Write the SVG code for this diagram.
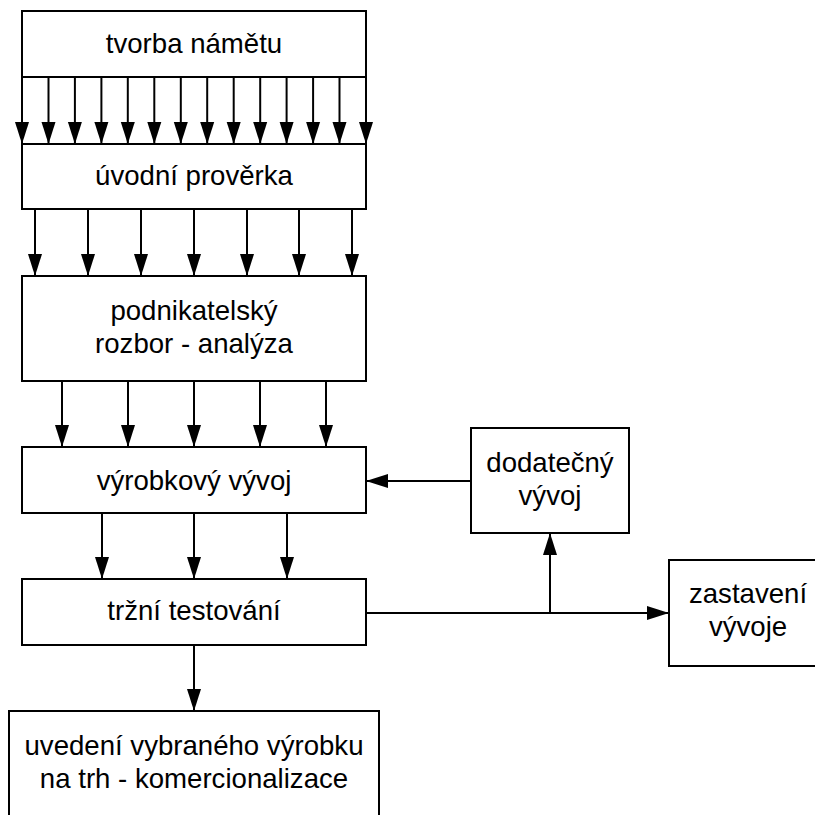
<svg xmlns="http://www.w3.org/2000/svg" width="815" height="815" viewBox="0 0 815 815">
<defs>
<style>
.box{fill:#fff;stroke:#000;stroke-width:2}
.t{font-family:"Liberation Sans",Arial,sans-serif;font-size:27.6px;fill:#000;text-anchor:middle}
.c{stroke:#000;stroke-width:2;fill:none;marker-end:url(#ah)}
.l{stroke:#000;stroke-width:2;fill:none}
</style>
<marker id="ah" markerUnits="userSpaceOnUse" markerWidth="22" markerHeight="14" refX="22" refY="7" orient="auto" overflow="visible">
<path d="M0,0 L22,7 L0,14 Z" fill="#000"/>
</marker>
</defs>
<rect width="815" height="815" fill="#fff"/>
<g id="connectors">
<path class="c" d="M22,77V144"/><path class="c" d="M48.5,77V144"/><path class="c" d="M74.9,77V144"/><path class="c" d="M101.4,77V144"/><path class="c" d="M127.8,77V144"/><path class="c" d="M154.3,77V144"/><path class="c" d="M180.8,77V144"/><path class="c" d="M207.2,77V144"/><path class="c" d="M233.7,77V144"/><path class="c" d="M260.2,77V144"/><path class="c" d="M286.6,77V144"/><path class="c" d="M313.1,77V144"/><path class="c" d="M339.5,77V144"/><path class="c" d="M366,77V144"/>
<path class="c" d="M35,209V276"/><path class="c" d="M88,209V276"/><path class="c" d="M141,209V276"/><path class="c" d="M194,209V276"/><path class="c" d="M247,209V276"/><path class="c" d="M299,209V276"/><path class="c" d="M352,209V276"/>
<path class="c" d="M62,381V447"/><path class="c" d="M128,381V447"/><path class="c" d="M194,381V447"/><path class="c" d="M260,381V447"/><path class="c" d="M326,381V447"/>
<path class="c" d="M102,513V579"/><path class="c" d="M194,513V579"/><path class="c" d="M287,513V579"/>
<path class="c" d="M194,645V711"/>
<path class="c" d="M471,481H366"/>
<path class="c" d="M366,613H669"/>
<path class="c" d="M550,613V533"/>
</g>
<g id="n1"><rect class="box" x="22" y="11" width="344" height="66"/><text class="t" x="194" y="53">tvorba námětu</text></g>
<g id="n2"><rect class="box" x="22" y="144" width="344" height="65"/><text class="t" x="194" y="185">úvodní prověrka</text></g>
<g id="n3"><rect class="box" x="22" y="276" width="344" height="105"/><text class="t" x="194" y="320">podnikatelský</text><text class="t" x="194" y="353">rozbor - analýza</text></g>
<g id="n4"><rect class="box" x="22" y="447" width="344" height="66"/><text class="t" x="194" y="490">výrobkový vývoj</text></g>
<g id="n5"><rect class="box" x="22" y="579" width="344" height="66"/><text class="t" x="194" y="620">tržní testování</text></g>
<g id="n6"><rect class="box" x="9" y="711" width="370" height="120"/><text class="t" x="194" y="755">uvedení vybraného výrobku</text><text class="t" x="194" y="788">na trh - komercionalizace</text></g>
<g id="n7"><rect class="box" x="471" y="428" width="158" height="105"/><text class="t" x="550" y="472">dodatečný</text><text class="t" x="550" y="505">vývoj</text></g>
<g id="n8"><rect class="box" x="669" y="560" width="158" height="106"/><text class="t" x="748" y="603">zastavení</text><text class="t" x="748" y="636">vývoje</text></g>
</svg>
